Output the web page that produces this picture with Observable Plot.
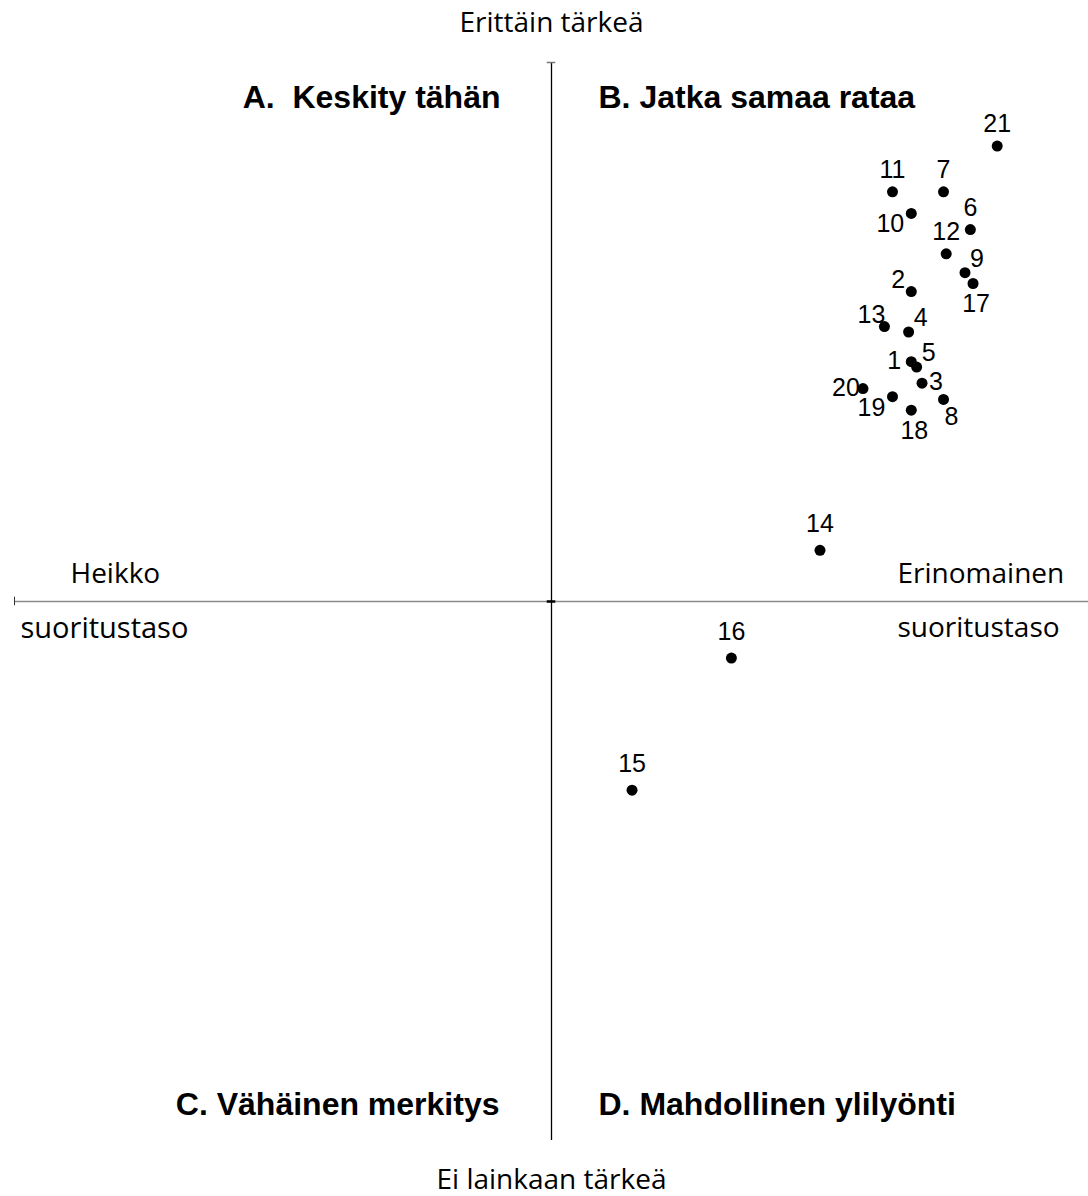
<!DOCTYPE html>
<html>
<head>
<meta charset="utf-8">
<script src="https://cdn.jsdelivr.net/npm/d3@7"></script>
<script src="https://cdn.jsdelivr.net/npm/@observablehq/plot@0.6"></script>
<style>
  html, body { margin: 0; padding: 0; background: #fff; }
  #chart svg { display: block; }
</style>
</head>
<body>
<div id="chart"></div>
<script>
// ---- Data ----
const ids = [1, 2, 3, 4, 5, 6, 7, 8, 9, 10, 11, 12, 13, 14, 15, 16, 17, 18, 19, 20, 21];
// performance (x, 1..5, centre 3)
const performance = [4.34, 4.34, 4.38, 4.33, 4.36, 4.56, 4.46, 4.46, 4.54, 4.34, 4.27, 4.47, 4.24, 4.00, 3.30, 3.67, 4.57, 4.34, 4.27, 4.16, 4.66];
// importance (y, 1..5, centre 3)
const importance = [3.89, 4.15, 3.81, 4.00, 3.87, 4.38, 4.52, 3.75, 4.22, 4.44, 4.52, 4.29, 4.02, 3.19, 2.30, 2.79, 4.18, 3.71, 3.76, 3.79, 4.69];
// label placement relative to each point (compass direction)
const labelPlacement = ["W", "NW", "E", "NE", "NE", "N", "N", "SE", "NE", "SW", "N", "N", "NW", "N+", "N+", "N+", "S", "S", "SW", "W", "N"];

const quadrantTitles = ["A.  Keskity tähän", "B. Jatka samaa rataa", "C. Vähäinen merkitys", "D. Mahdollinen ylilyönti"];
const axisTitles = ["Erittäin tärkeä", "Ei lainkaan tärkeä", "Heikko", "suoritustaso", "Erinomainen", "suoritustaso"];

const domainMin = 1, domainMax = 5, centre = 3;

// ---- Build table ----
const offsets = {
  "N": [0, -22], "N+": [0, -26], S: [3, 21], W: [-17, -1], E: [14, -1],
  NE: [12, -14], NW: [-13, -12], SW: [-21, 11], SE: [8, 18]
};
const points = ids.map((id, i) => ({
  id, x: performance[i], y: importance[i],
  dx: offsets[labelPlacement[i]][0], dy: offsets[labelPlacement[i]][1]
}));

const tickHalf = 0.016;
const bold = "Liberation Sans, Arial, sans-serif";
const regular = "Open Sans, sans-serif";
const titleSize = 32, axisSize = 28, labelSize = 25;

const marks = [
  // horizontal axis (grey)
  Plot.ruleY([centre], {x1: domainMin, x2: domainMax, stroke: "#8a8a8a", strokeWidth: 1.4}),
  // vertical axis (black)
  Plot.ruleX([centre], {y1: domainMin, y2: domainMax, stroke: "#000", strokeWidth: 1.3}),
  // small end / centre ticks
  Plot.ruleY([domainMax], {x1: centre - tickHalf, x2: centre + tickHalf, stroke: "#777", strokeWidth: 1.5}),
  Plot.ruleX([domainMin], {y1: centre - tickHalf, y2: centre + tickHalf, stroke: "#333", strokeWidth: 1}),
  Plot.ruleY([centre], {x1: centre - tickHalf, x2: centre + tickHalf, stroke: "#000", strokeWidth: 2.5}),

  // points
  Plot.dot(points, {x: "x", y: "y", r: 5.5, fill: "#000", stroke: null}),
  ...points.map(p => Plot.text([p], {
    x: "x", y: "y", text: d => String(d.id), dx: p.dx, dy: p.dy,
    fontFamily: bold, fontSize: labelSize, fill: "#000"
  })),

  // quadrant titles
  Plot.text([quadrantTitles[0]], {x: centre, y: domainMax, text: d => d, textAnchor: "end", dx: -51, dy: 35, fontFamily: bold, fontWeight: "bold", fontSize: titleSize, fill: "#000"}),
  Plot.text([quadrantTitles[1]], {x: centre, y: domainMax, text: d => d, textAnchor: "start", dx: 47, dy: 35, fontFamily: bold, fontWeight: "bold", fontSize: titleSize, fill: "#000"}),
  Plot.text([quadrantTitles[2]], {x: centre, y: domainMin, text: d => d, textAnchor: "end", dx: -52, dy: -36, fontFamily: bold, fontWeight: "bold", fontSize: titleSize, fill: "#000"}),
  Plot.text([quadrantTitles[3]], {x: centre, y: domainMin, text: d => d, textAnchor: "start", dx: 47, dy: -36, fontFamily: bold, fontWeight: "bold", fontSize: titleSize, fill: "#000"}),

  // axis end titles
  Plot.text([axisTitles[0]], {x: centre, y: domainMax, text: d => d, dy: -39, fontFamily: regular, fontSize: axisSize, fill: "#000"}),
  Plot.text([axisTitles[1]], {x: centre, y: domainMin, text: d => d, dy: 40, fontFamily: regular, fontSize: axisSize, fill: "#000"}),
  Plot.text([axisTitles[2]], {x: domainMin, y: centre, text: d => d, textAnchor: "start", dx: 56, dy: -27, fontFamily: regular, fontSize: axisSize, fill: "#000"}),
  Plot.text([axisTitles[3]], {x: domainMin, y: centre, text: d => d, textAnchor: "start", dx: 6, dy: 27, fontFamily: regular, fontSize: axisSize + 1, fill: "#000"}),
  Plot.text([axisTitles[4]], {x: domainMax, y: centre, text: d => d, textAnchor: "start", dx: -191, dy: -27, fontFamily: regular, fontSize: axisSize, fill: "#000"}),
  Plot.text([axisTitles[5]], {x: domainMax, y: centre, text: d => d, textAnchor: "start", dx: -191, dy: 27, fontFamily: regular, fontSize: axisSize, fill: "#000"})
];

const chart = Plot.plot({
  width: 1088,
  height: 1196,
  marginLeft: 14,
  marginRight: 0,
  marginTop: 62,
  marginBottom: 56,
  x: {domain: [domainMin, domainMax], axis: null},
  y: {domain: [domainMin, domainMax], axis: null},
  style: {background: "#fff", overflow: "visible"},
  marks
});
document.getElementById("chart").appendChild(chart);
</script>
</body>
</html>
